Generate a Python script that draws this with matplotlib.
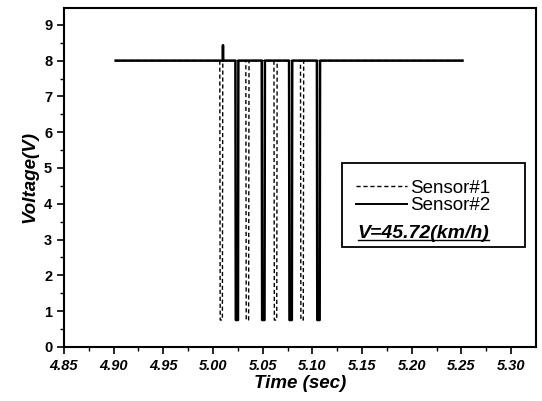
import matplotlib
matplotlib.use('Agg')
import matplotlib.pyplot as plt
from matplotlib.patches import Rectangle
from matplotlib.lines import Line2D
import numpy as np

# values
t_start = 4.902
t_end = 5.251
v_high = 8.0
v_low = 0.75
s1_fall = [5.0068, 5.0330, 5.0613, 5.0880]
s1_rise = [5.0098, 5.0362, 5.0645, 5.0912]
s2_fall = [5.0225, 5.0490, 5.0765, 5.1045]
s2_rise = [5.0255, 5.0522, 5.0797, 5.1077]
spike_t = 5.0100
spike_v = 8.43

def trace(falls, rises, spike=None):
    t = [t_start]
    v = [v_high]
    for f, r in zip(falls, rises):
        if spike is not None and t[-1] < spike < f:
            t += [spike - 0.0003, spike, spike + 0.0003]
            v += [v_high, spike_v, v_high]
        t += [f, f + 0.0004, r - 0.0004, r]
        v += [v_high, v_low, v_low, v_high]
    t.append(t_end)
    v.append(v_high)
    return t, v

t1, v1 = trace(s1_fall, s1_rise)
t2, v2 = trace(s2_fall, s2_rise, spike=spike_t)

plt.rcParams['font.family'] = ['Liberation Sans', 'DejaVu Sans']
fig = plt.figure(figsize=(5.42, 4.01), dpi=100)
ax = fig.add_axes([0.118, 0.135, 0.871, 0.845])

ax.plot(t1, v1, color='black', lw=1.0, ls=(0, (3, 2)))
ax.plot(t2, v2, color='black', lw=1.8)

xt = np.arange(4.85, 5.301, 0.05)
ax.set_xlim(4.85, 5.325)
ax.set_ylim(0, 9.47)
ax.set_xticks(xt)
ax.set_xticklabels(['%.2f' % x for x in xt])
ax.set_xticks(np.arange(4.875, 5.32, 0.05), minor=True)
ax.set_yticks(range(0, 10))
ax.set_yticks(np.arange(0.5, 9.5, 1), minor=True)
ax.tick_params(which='major', direction='out', length=5, width=1.2, labelsize=10.5)
ax.tick_params(which='minor', direction='out', length=3, width=1.0)
for lab in ax.get_xticklabels():
    lab.set_fontweight('bold')
    lab.set_style('italic')
for lab in ax.get_yticklabels():
    lab.set_fontweight('bold')
for s in ax.spines.values():
    s.set_linewidth(1.5)

ax.set_xlabel('Time (sec)', fontsize=13.5, fontweight='bold', style='italic', labelpad=2)
ax.set_ylabel('Voltage(V)', fontsize=13.5, fontweight='bold', style='italic', labelpad=4)

# legend box
ax.add_patch(Rectangle((0.589, 0.295), 0.388, 0.248, transform=ax.transAxes,
                       fill=False, lw=1.3, color='black', zorder=5))
handles = [Line2D([], [], color='black', lw=1.0, ls=(0, (3, 2))),
           Line2D([], [], color='black', lw=1.4)]
leg = ax.legend(handles, ['Sensor#1', 'Sensor#2'], frameon=False,
                loc='upper left', bbox_to_anchor=(0.603, 0.515),
                fontsize=13.5, handlelength=2.7, handletextpad=0.2,
                labelspacing=0.0, borderaxespad=0)
txt = ax.text(0.622, 0.322, 'V=45.72(km/h)', transform=ax.transAxes,
              fontsize=14, fontweight='bold', style='italic')
fig.canvas.draw()
bb = txt.get_window_extent().transformed(ax.transAxes.inverted())
ax.plot([bb.x0, bb.x1], [bb.y0 + 0.004, bb.y0 + 0.004], color='black', lw=1.0,
        transform=ax.transAxes)

fig.savefig('out.png', dpi=100)
